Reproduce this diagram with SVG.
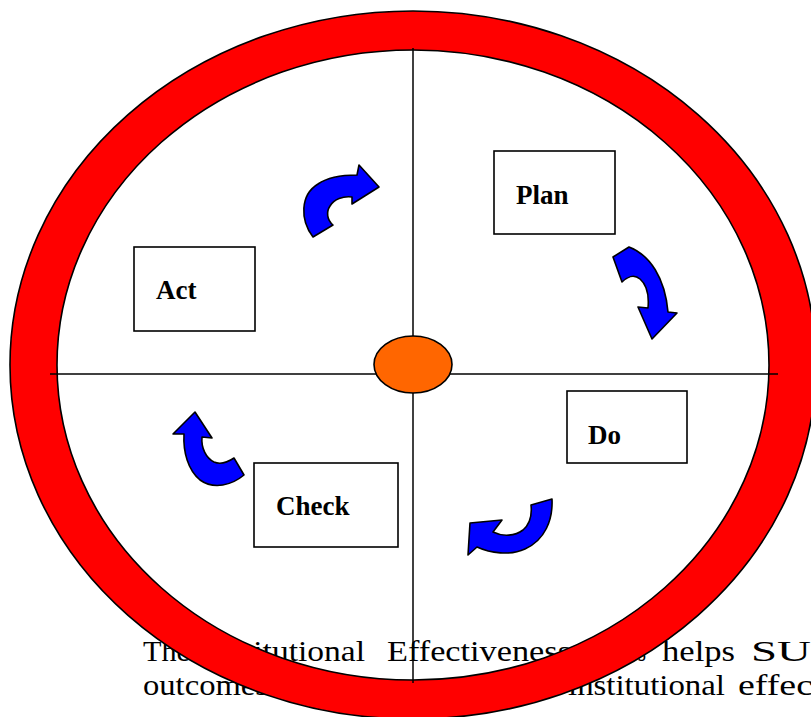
<svg xmlns="http://www.w3.org/2000/svg" width="811" height="717" viewBox="0 0 811 717">
<style>
.body{font-family:"Liberation Serif","Times New Roman",serif;font-size:29px;fill:#000}
.box{fill:#fff;stroke:#000;stroke-width:1.6}
.lbl{font-family:"Liberation Serif","Times New Roman",serif;font-size:27px;font-weight:bold;fill:#000}
.arr{fill:#0000ff;stroke:#000;stroke-width:1.6;stroke-linejoin:round}
.ln{stroke:#000;stroke-width:1.5;fill:none}
</style>
<rect width="811" height="717" fill="#fff"/>
<g id="body-text">
<text class="body" x="143" y="661" textLength="47" lengthAdjust="spacingAndGlyphs">The</text>
<text class="body" x="203" y="661" textLength="162" lengthAdjust="spacingAndGlyphs">Institutional</text>
<text class="body" x="387" y="661" textLength="184" lengthAdjust="spacingAndGlyphs">Effectiveness</text>
<text class="body" x="580" y="661" textLength="66" lengthAdjust="spacingAndGlyphs">process</text>
<text class="body" x="662" y="661" textLength="73" lengthAdjust="spacingAndGlyphs">helps</text>
<text class="body" x="751" y="661" textLength="60" lengthAdjust="spacingAndGlyphs">SU</text>
<text class="body" x="143" y="695" textLength="125" lengthAdjust="spacingAndGlyphs">outcomes</text>
<text class="body" x="568" y="695" textLength="157" lengthAdjust="spacingAndGlyphs">institutional</text>
<text class="body" x="738" y="695" textLength="75" lengthAdjust="spacingAndGlyphs">effec</text>
</g>
<g id="ring">
<path d="M10,365 A403,354 0 1,0 816,365 A403,354 0 1,0 10,365 Z M57,365 A356,315 0 1,1 769,365 A356,315 0 1,1 57,365 Z" fill="#ff0000" fill-rule="evenodd" stroke="#000" stroke-width="1.6"/>
</g>
<g id="connectors">
<line class="ln" x1="413" y1="48" x2="413" y2="683"/>
<line class="ln" x1="50" y1="374" x2="778" y2="374"/>
</g>
<g id="center">
<ellipse cx="413" cy="364.5" rx="39" ry="28.5" fill="#ff6600" stroke="#000" stroke-width="1.6"/>
</g>
<g id="plan">
<rect class="box" x="494" y="151" width="121" height="83"/>
<text class="lbl" x="516" y="204">Plan</text>
</g>
<g id="act">
<rect class="box" x="134" y="247" width="121" height="84"/>
<text class="lbl" x="156" y="299">Act</text>
</g>
<g id="do">
<rect class="box" x="567" y="391" width="120" height="72"/>
<text class="lbl" x="588" y="444">Do</text>
</g>
<g id="check">
<rect class="box" x="254" y="463" width="144" height="84"/>
<text class="lbl" x="276" y="515">Check</text>
</g>
<g id="arrows">
<path class="arr" d="M313,237 C300,220 300,195 318,184 C328,177 343,175 357,175 L359,165 L379,187 L352,204 L352,197 C343,196 334,199 330,206 C326,212 327,220 333,225 Z"/>
<path class="arr" d="M613,257 L629,247 C650,255 665,278 668,312 L677,313 L652,339 L638,307 L648,308 C649,297 647,285 640,279 C634,274 627,277 622,282 Z"/>
<path class="arr" d="M552,499 C553,520 545,540 525,549 C510,556 490,553 477,547 L468,555 L470,523 L502,520 L493,532 C503,537 515,536 523,530 C530,524 532,514 531,505 Z"/>
<path class="arr" d="M195,412 L212,438 L202,437 C201,448 206,458 214,462 C221,465 228,462 234,458 L244,475 C232,485 214,490 200,480 C188,470 183,452 184,434 L173,434 Z"/>
</g>
</svg>
